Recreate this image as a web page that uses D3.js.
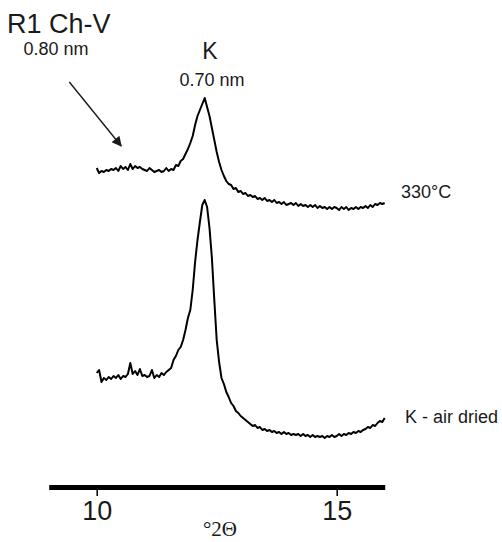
<!DOCTYPE html>
<html>
<head>
<meta charset="utf-8">
<script src="https://cdn.jsdelivr.net/npm/d3@7"></script>
<style>
  html, body { margin: 0; padding: 0; background: #fff; }
  svg { display: block; }
  text { font-family: "Liberation Sans", Arial, sans-serif; fill: #1a1a1a; }
</style>
</head>
<body>
<svg id="chart" width="502" height="542"></svg>
<script>
// ---- data ----
const twoTheta = [
  10.00,10.05,10.10,10.15,10.20,10.25,10.30,10.35,10.40,10.45,
  10.50,10.55,10.60,10.65,10.70,10.75,10.80,10.85,10.90,10.95,
  11.00,11.05,11.10,11.15,11.20,11.25,11.30,11.35,11.40,11.45,
  11.50,11.55,11.60,11.65,11.70,11.75,11.80,11.85,11.90,11.95,
  12.00,12.05,12.10,12.15,12.20,12.25,12.30,12.35,12.40,12.45,
  12.50,12.55,12.60,12.65,12.70,12.75,12.80,12.85,12.90,12.95,
  13.00,13.05,13.10,13.15,13.20,13.25,13.30,13.35,13.40,13.45,
  13.50,13.55,13.60,13.65,13.70,13.75,13.80,13.85,13.90,13.95,
  14.00,14.05,14.10,14.15,14.20,14.25,14.30,14.35,14.40,14.45,
  14.50,14.55,14.60,14.65,14.70,14.75,14.80,14.85,14.90,14.95,
  15.00,15.05,15.10,15.15,15.20,15.25,15.30,15.35,15.40,15.45,
  15.50,15.55,15.60,15.65,15.70,15.75,15.80,15.85,15.90,15.95,
  16.00
];
// intensity (arbitrary units, stacked)
const heated330 = [
  322,317,319,318,320,319,321,320,322,319,
  324,321,323,320,326,321,324,322,323,321,
  320,319,322,320,318,319,320,318,319,322,
  319,321,320,325,324,329,331,336,341,347,
  354,365,374,380,386,392,383,374,362,350,
  338,328,320,314,309,306,305,301,302,298,
  299,296,297,294,295,293,294,291,292,290,
  292,289,290,288,290,287,288,286,288,285,
  286,287,285,287,284,286,284,285,283,285,
  283,285,282,284,282,283,281,283,281,283,
  282,280,283,281,283,280,282,281,283,281,
  283,282,284,282,285,283,286,285,287,286,
  287
];
const airDried = [
  117,120,108,112,110,113,111,114,112,115,
  111,114,113,116,127,116,119,115,121,114,
  115,113,114,120,112,115,113,117,115,118,
  120,122,130,134,140,143,150,160,172,180,
  200,228,250,268,285,290,283,262,232,190,
  150,128,112,106,98,93,87,84,79,77,
  74,72,70,68,66,64,65,62,63,60,
  61,59,60,58,59,57,58,56,58,56,
  57,55,56,55,56,54,56,54,55,53,
  55,53,54,53,54,52,54,53,55,53,
  54,56,54,56,55,57,56,58,57,59,
  58,60,61,63,62,65,64,67,69,68,
  72
];
const seriesNames = ["330°C", "K - air dried"];
const xTicks = [10, 15];
const xDomain = [9, 16];
const xTitle = "°2Θ";
const peakLabels = [
  { title: "K", spacing: "0.70 nm" },
  { title: "R1 Ch-V", spacing: "0.80 nm" }
];

// ---- layout ----
const svg = d3.select("#chart");
const axisY = 487;
const x = d3.scaleLinear().domain(xDomain).range([48.7, 384.7]);
const y = d3.scaleLinear().domain([0, 400]).range([490, 90]);

const line = d3.line()
  .x((d, i) => x(twoTheta[i]))
  .y(d => y(d))
  .curve(d3.curveLinear);

const series = [heated330, airDried];
svg.selectAll("path.trace")
  .data(series)
  .join("path")
  .attr("class", "trace")
  .attr("d", line)
  .attr("fill", "none")
  .attr("stroke", "#000")
  .attr("stroke-width", 2)
  .attr("stroke-linejoin", "round");

// series labels at right end
svg.append("text")
  .attr("x", 401).attr("y", 198)
  .attr("font-size", 18)
  .text(seriesNames[0]);
svg.append("text")
  .attr("x", 405).attr("y", 423)
  .attr("font-size", 18)
  .text(seriesNames[1]);

// axis
const axis = d3.axisBottom(x)
  .tickValues(xTicks)
  .tickSize(9)
  .tickSizeOuter(0)
  .tickFormat(d3.format("d"));
const gAxis = svg.append("g")
  .attr("transform", `translate(0,${axisY})`)
  .call(axis);
gAxis.select(".domain")
  .attr("stroke", "#000")
  .attr("stroke-width", 5);
gAxis.selectAll(".tick line")
  .attr("stroke", "#000")
  .attr("stroke-width", 1.5);
gAxis.selectAll(".tick text")
  .attr("y", 33).attr("dy", 0)
  .attr("font-size", 27)
  .attr("font-family", "Liberation Sans, Arial, sans-serif")
  .attr("fill", "#1a1a1a");

svg.append("text")
  .attr("x", 220).attr("y", 536)
  .attr("text-anchor", "middle")
  .style("font-family", "'Liberation Serif', 'Times New Roman', serif")
  .attr("font-size", 21)
  .text(xTitle);

// peak annotations
svg.append("text")
  .attr("x", 210).attr("y", 59)
  .attr("text-anchor", "middle")
  .attr("font-size", 23)
  .text(peakLabels[0].title);
svg.append("text")
  .attr("x", 212).attr("y", 86)
  .attr("text-anchor", "middle")
  .attr("font-size", 18)
  .text(peakLabels[0].spacing);

svg.append("text")
  .attr("x", 7).attr("y", 33)
  .attr("font-size", 27)
  .text(peakLabels[1].title);
svg.append("text")
  .attr("x", 56).attr("y", 55)
  .attr("text-anchor", "middle")
  .attr("font-size", 18)
  .text(peakLabels[1].spacing);

// arrow
const defs = svg.append("defs");
defs.append("marker")
  .attr("id", "arrowhead")
  .attr("viewBox", "0 0 10 10")
  .attr("refX", 9).attr("refY", 5)
  .attr("markerWidth", 12).attr("markerHeight", 10)
  .attr("markerUnits", "userSpaceOnUse")
  .attr("orient", "auto")
  .append("path")
  .attr("d", "M0,0 L10,5 L0,10 Z")
  .attr("fill", "#1a1a1a");
const arrowTail = { t: 9.43, v: 408 };
const arrowTip = { t: 10.51, v: 344 };
svg.append("line")
  .attr("x1", x(arrowTail.t)).attr("y1", y(arrowTail.v))
  .attr("x2", x(arrowTip.t)).attr("y2", y(arrowTip.v))
  .attr("stroke", "#1a1a1a")
  .attr("stroke-width", 1.4)
  .attr("marker-end", "url(#arrowhead)");
</script>
</body>
</html>
